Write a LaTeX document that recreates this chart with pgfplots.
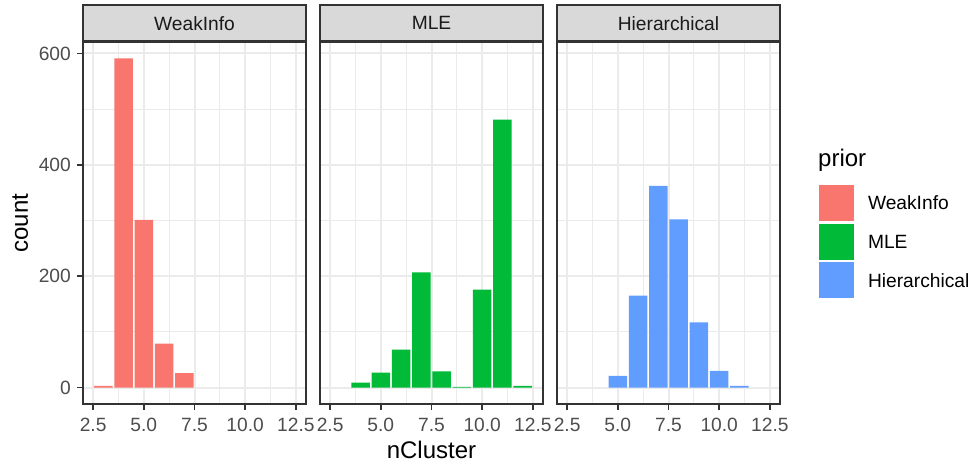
\documentclass[border=0pt]{standalone}
\usepackage{pgfplots}
\pgfplotsset{compat=1.18}
\usepackage{fontspec}
\setmainfont{Liberation Sans}
\definecolor{gTwenty}{HTML}{333333}
\definecolor{gThirty}{HTML}{4D4D4D}
\definecolor{gEightyFive}{HTML}{D9D9D9}
\definecolor{gNinetyTwo}{HTML}{EBEBEB}
\definecolor{gTen}{HTML}{1A1A1A}
\definecolor{cWeak}{HTML}{F8766D}
\definecolor{cMLE}{HTML}{00BA38}
\definecolor{cHier}{HTML}{619CFF}
\newcommand{\fsmall}{\fontsize{19.2pt}{23pt}\selectfont}
\newcommand{\flarge}{\fontsize{24pt}{29pt}\selectfont}

\pgfplotstableread{
x y
3 3
4 591
5 301
6 79
7 26
}\weakinfo
\pgfplotstableread{
x y
4 9
5 27
6 68
7 207
8 29
9 1
10 176
11 481
12 3
}\mle
\pgfplotstableread{
x y
5 21
6 165
7 362
8 302
9 117
10 30
11 3
}\hier

\pgfplotsset{
  facet/.style={
    scale only axis, width=223pt, height=362pt,
    anchor=south west,
    xmin=2, xmax=13, ymin=-29.55, ymax=620.55,
    axis line style={draw=gTwenty, line width=1.6pt},
    xtick={2.5,5,7.5,10,12.5}, xticklabels={2.5,5.0,7.5,10.0,12.5},
    minor xtick={3.75,6.25,8.75,11.25},
    ytick={0,200,400,600}, minor ytick={100,300,500},
    grid=both,
    major grid style={draw=gNinetyTwo, line width=2pt},
    minor grid style={draw=gNinetyTwo, line width=1pt},
    tick align=outside, xtick pos=lower, ytick pos=left,
    major tick length=5.5pt, minor tick length=0pt,
    major tick style={draw=gTwenty, line width=1.6pt},
    tick label style={font=\fsmall, text=gThirty, inner sep=0pt},
    xticklabel style={yshift=-8.5pt},
    yticklabel style={xshift=-6.5pt},
    /pgf/number format/assume math mode=true,
    every axis title shift=0pt,
    title style={at={(rel axis cs:0.5,1)}, anchor=south, fill=gEightyFive, draw=gTwenty, line width=1.6pt, minimum width=223pt, minimum height=36pt, inner sep=0pt, font=\fsmall, text=gTen},
    ybar, bar width=0.915, bar shift=0pt,
  },
  bars/.style={draw=none, fill=#1},
  key/.style={legend image code/.code={\fill[#1, draw=none] (0pt,-18pt) rectangle (35pt,18pt);}},
}

\begin{document}
\begin{tikzpicture}
\path[use as bounding box] (0pt,0pt) rectangle (975pt,464pt);

\begin{axis}[facet, at={(83pt,60pt)}, title={WeakInfo},
  yticklabels={0,200,400,600},
  ylabel={count}, ylabel style={at={([xshift=-55pt]rel axis cs:0,0.5)}, anchor=base, rotate=0, font=\flarge, inner sep=0pt}]
\addplot[bars=cWeak] table[x=x,y=y] {\weakinfo};
\end{axis}

\begin{axis}[facet, at={(320pt,60pt)}, title={MLE},
  yticklabels={}, ytick style={draw=none},
  xlabel={nCluster}, xlabel style={at={([yshift=-37pt]rel axis cs:0.5,0)}, anchor=north, font=\flarge, inner sep=0pt}]
\addplot[bars=cMLE] table[x=x,y=y] {\mle};
\end{axis}

\begin{axis}[facet, at={(557pt,60pt)}, title={Hierarchical},
  yticklabels={}, ytick style={draw=none},
  legend cell align=left,
  legend style={draw=none, fill=none, inner sep=0pt, outer sep=0pt, row sep=2.6pt,
    at={(1.1749,0.605)}, anchor=north west, font=\fsmall,
    nodes={inner sep=0pt, text depth=0pt},
    /tikz/every odd column/.append style={column sep=14pt}}]
\addplot[bars=cHier, forget plot] table[x=x,y=y] {\hier};
\addlegendimage{key={fill=cWeak}}
\addlegendentry{WeakInfo}
\addlegendimage{key={fill=cMLE}}
\addlegendentry{MLE}
\addlegendimage{key={fill=cHier}}
\addlegendentry{Hierarchical}
\end{axis}

\node[anchor=base west, font=\flarge, inner sep=0pt] at (818pt,297.5pt) {prior};
\end{tikzpicture}
\end{document}
